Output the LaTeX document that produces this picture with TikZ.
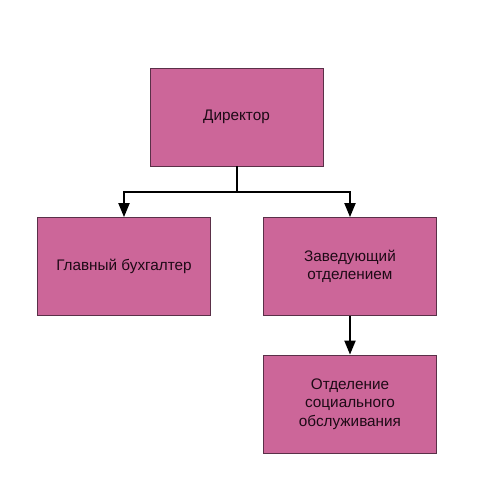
\documentclass[tikz,border=0pt]{standalone}
\usepackage{fontspec}
\setmainfont{Liberation Sans}
\usetikzlibrary{arrows.meta}
\definecolor{boxfill}{HTML}{CC6699}
\definecolor{boxline}{HTML}{5A3048}
\definecolor{txt}{HTML}{1E0A16}
\begin{document}
\begin{tikzpicture}[x=1pt,y=-1pt,
  orgbox/.style={draw=boxline,fill=boxfill,line width=0.8pt,minimum width=173pt,minimum height=98pt,inner sep=0pt,align=center,text=txt,font=\fontsize{15.3}{18.3}\selectfont},
  conn/.style={line width=2pt,draw=black},
  arr/.style={conn,-{Triangle[length=14pt,width=11pt]}}]
\useasboundingbox (0,0) rectangle (480,504);
\node[orgbox] (dir) at (236.5,117) {Директор};
\node[orgbox] (buh) at (124,266.5) {Главный бухгалтер};
\node[orgbox] (zav) at (350,266.5) {Заведующий\\отделением};
\node[orgbox] (otd) at (350,404) {Отделение\\социального\\обслуживания};
\coordinate (j) at (236.5,192);
\draw[conn] (dir.south) -- (j);
\draw[arr] (j) -| (buh.north);
\draw[arr] (j) -| (zav.north);
\draw[arr] (zav.south) -- (otd.north);
\end{tikzpicture}
\end{document}
